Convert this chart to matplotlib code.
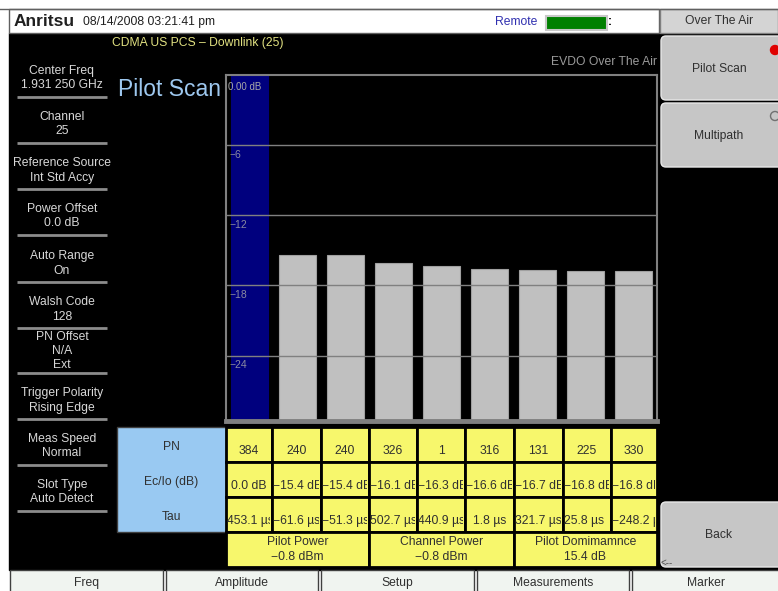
import numpy as np
import matplotlib
matplotlib.use("Agg")
import matplotlib.pyplot as plt
from matplotlib.patches import Rectangle, FancyBboxPatch, Circle

plt.rcParams['font.family'] = ['Liberation Sans', 'DejaVu Sans']

# measured values
pn = [384, 240, 240, 326, 1, 316, 131, 225, 330]
ec_io = [0.0, -15.4, -15.4, -16.1, -16.3, -16.6, -16.7, -16.8, -16.8]
tau = [453.1, -61.6, -51.3, 502.7, 440.9, 1.8, 321.7, 25.8, -248.2]
y_ticks = [0, -6, -12, -18, -24]
y_min = -29.6

left_labels = [("Center Freq", "1.931 250 GHz"), ("Channel", "25"),
               ("Reference Source", "Int Std Accy"), ("Power Offset", "0.0 dB"),
               ("Auto Range", "On"), ("Walsh Code", "128"),
               ("PN Offset", "N/A", "Ext"), ("Trigger Polarity", "Rising Edge"),
               ("Meas Speed", "Normal"), ("Slot Type", "Auto Detect")]
summary = [("Pilot Power", "-0.8 dBm"), ("Channel Power", "-0.8 dBm"),
           ("Pilot Domimamnce", "15.4 dB")]
menu = ["Freq", "Amplitude", "Setup", "Measurements", "Marker"]

W, H = 778, 591
FS = 8.7
fig = plt.figure(figsize=(W / 100, H / 100), dpi=100)
bg = fig.add_axes([0, 0, 1, 1])
bg.set_xlim(0, W)
bg.set_ylim(H, 0)
bg.axis('off')

TXT = '#d8d8d8'
DARK = '#303030'


def fmt(s):
    return s.replace('-', '\u2212')


# screen background
bg.add_patch(Rectangle((9, 33), W - 9, 537, color='black'))
bg.add_patch(Rectangle((9, 9), 650, 24, facecolor='white', edgecolor='#606060', lw=1))
bg.plot([0, W], [9, 9], color='#606060', lw=1)

# header
bg.text(14, 21, "Anritsu", fontsize=12.5, fontweight='heavy', color='#202020', va='center')
bg.text(83, 22, "08/14/2008 03:21:41 pm", fontsize=FS, color='#202020', va='center')
bg.text(495, 22, "Remote", fontsize=FS, color='#3030b0', va='center')
bg.add_patch(Rectangle((546, 16), 61, 14, facecolor='#008000', edgecolor='#c8c8c8', lw=1.5))
bg.text(608, 22, ":", fontsize=FS, color='black', va='center', fontweight='bold')

bg.text(112, 43, "CDMA US PCS \u2013 Downlink (25)", fontsize=FS, color='#e0e080', va='center')
bg.text(657, 62, "EVDO Over The Air", fontsize=FS, color='#9a9a9a', va='center', ha='right')
bg.text(118, 89, "Pilot Scan", fontsize=16.5, color='#9ec8ef', va='center')

# left panel
sep_y = [97, 143, 189, 235, 282, 328, 373, 419, 465, 511]
for lab, sy in zip(left_labels, sep_y):
    n = len(lab)
    for k, s in enumerate(lab):
        bg.text(62, sy - 26 + k * 14.5 - (n - 2) * 14.5 + (4 if n == 3 else 0), s,
                fontsize=FS, color=TXT, ha='center', va='center')
    bg.plot([17, 107], [sy, sy], color='#8c8c8c', lw=2, solid_capstyle='butt')

# right panel
bg.add_patch(Rectangle((660, 9), 118, 24, facecolor='#d4d4d4', edgecolor='#808080', lw=1))
bg.text(719, 21, "Over The Air", fontsize=FS, color=DARK, ha='center', va='center')
for y0, y1, lab in [(36, 100, "Pilot Scan"), (103, 167, "Multipath"), (502, 567, "Back")]:
    bg.add_patch(FancyBboxPatch((661, y0), 130, y1 - y0,
                                boxstyle="round,pad=0,rounding_size=5",
                                facecolor='#c6c6c6', edgecolor='#e8e8e8', lw=1))
    bg.text(719, (y0 + y1) / 2 + 1, lab, fontsize=FS, color=DARK, ha='center', va='center')
bg.add_patch(Circle((775, 50), 4.5, color='#e00000'))
bg.add_patch(Circle((775, 116), 4.5, facecolor='#c6c6c6', edgecolor='#707070', lw=1))
bg.text(661, 563, "<--", fontsize=7, color='#505050', va='center')

# bottom menu
edges = [10, 166, 321, 477, 632, W + 5]
for i, lab in enumerate(menu):
    x0, x1 = edges[i], edges[i + 1] - 3
    bg.add_patch(Rectangle((x0, 570), x1 - x0, 25, facecolor='#f0f4f0', edgecolor='#404040', lw=1))
    bg.text((x0 + x1) / 2, 583, lab, fontsize=FS, color=DARK, ha='center', va='center')

# bar chart
ax = fig.add_axes([226 / W, 1 - 421 / H, (657 - 226) / W, (421 - 75) / H])
ax.set_facecolor('black')
x = np.arange(len(ec_io))
vals = np.array(ec_io)
colors = ['#00007e'] + ['#c0c0c0'] * (len(vals) - 1)
ax.bar(x, vals - y_min, bottom=y_min, width=0.77, color=colors,
       edgecolor=['#00007e'] + ['#a0a0a0'] * (len(vals) - 1), lw=0.8, zorder=1)
for t in y_ticks[1:]:
    ax.axhline(t, color='#808080', lw=1, zorder=2)
ax.set_xlim(-0.485, 8.49)
ax.set_ylim(y_min, 0)
ax.set_xticks([])
ax.set_yticks([])
for s in ax.spines.values():
    s.set_color('#808080')
    s.set_linewidth(1.5)
ax.spines['bottom'].set_linewidth(3.5)
ax.text(0.005, -1.0, "0.00 dB", transform=ax.get_yaxis_transform(), fontsize=7,
        color='#a8a8a8', va='center', zorder=3)
for t in y_ticks[1:]:
    ax.text(0.008, t - 0.85, fmt(str(t)), transform=ax.get_yaxis_transform(),
            fontsize=7.5, color='#8a8aa0', va='center', zorder=3)

# table
cols = [226, 272, 321, 369, 417, 465, 514, 563, 611, 657]
rows = [427, 462, 497, 532, 567]
bg.add_patch(Rectangle((117, 427), 109, 105, facecolor='#99c9f2', edgecolor='#404040', lw=1))
for lab, yy in zip(["PN", "Ec/Io (dB)", "Tau"], [447, 482, 517]):
    bg.text(171, yy, lab, fontsize=FS, color=DARK, ha='center', va='center')

row_text = [[str(v) for v in pn],
            [fmt(f"{v:.1f} dB") for v in ec_io],
            [fmt(f"{v:.1f} \u00b5s") for v in tau]]
for r in range(3):
    for c in range(len(pn)):
        x0, x1 = cols[c], cols[c + 1]
        y0, y1 = rows[r], rows[r + 1]
        cell = Rectangle((x0, y0), x1 - x0, y1 - y0, facecolor='#f7f76c',
                         edgecolor='black', lw=2)
        bg.add_patch(cell)
        s = row_text[r][c]
        clip = Rectangle((x0, y0), x1 - x0 - 1.5, y1 - y0, transform=bg.transData)
        if len(s) >= 7:
            t = bg.text(x0 + 1.5, y0 + 24, s, fontsize=FS, color=DARK, ha='left',
                        va='center', clip_on=True)
        else:
            t = bg.text((x0 + x1) / 2, y0 + 24, s, fontsize=FS, color=DARK, ha='center',
                        va='center', clip_on=True)
        t.set_clip_path(clip)

sum_edges = [226, 369, 514, 657]
for i, (a, b) in enumerate(summary):
    x0, x1 = sum_edges[i], sum_edges[i + 1]
    bg.add_patch(Rectangle((x0, 532), x1 - x0, 35, facecolor='#f7f76c', edgecolor='black', lw=2))
    bg.text((x0 + x1) / 2, 542, a, fontsize=FS, color=DARK, ha='center', va='center')
    bg.text((x0 + x1) / 2, 557, fmt(b), fontsize=FS, color=DARK, ha='center', va='center')

fig.savefig("out.png", dpi=100, facecolor='white')
